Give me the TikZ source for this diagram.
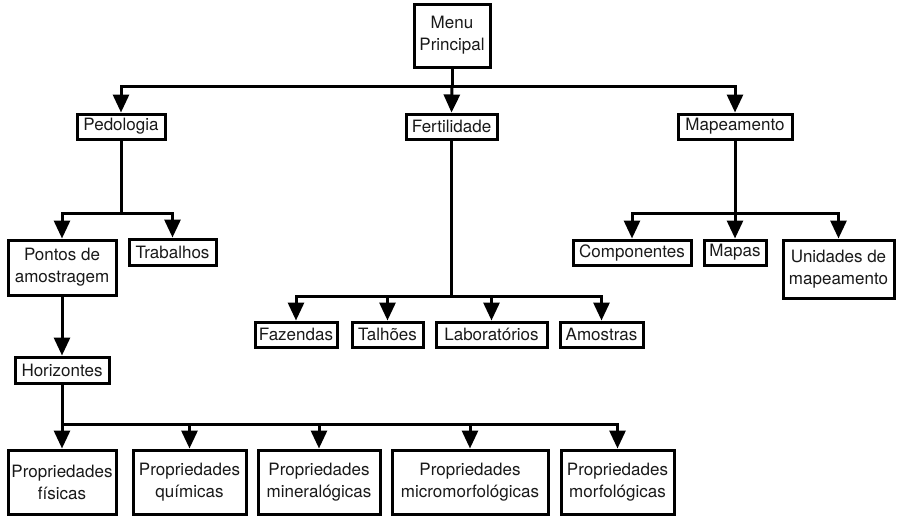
\documentclass[tikz,border=0pt]{standalone}
\usepackage{fontspec}
\setmainfont{TeX Gyre Heros}
\usetikzlibrary{arrows.meta}
\begin{document}
\begin{tikzpicture}[x=1pt,y=-1pt,
  bx/.style={draw=black, line width=3pt, inner sep=0pt, align=center,
    font=\fontsize{17}{22}\selectfont, text=black!90},
  ln/.style={draw=black, line width=3pt},
  arr/.style={ln, -{Triangle[length=18pt,width=16pt]}}]
\useasboundingbox (0,0) rectangle (897,515);
% nodes
\node[bx, minimum width=76pt, minimum height=63pt] (menu) at (452,35.5) {Menu\\Principal};
\node[bx, minimum width=88pt, minimum height=25pt] (ped) at (121,126.5) {Pedologia};
\node[bx, minimum width=91pt, minimum height=25pt] (fert) at (451.5,126.5) {Fertilidade};
\node[bx, minimum width=114pt, minimum height=25pt] (map) at (735,126.5) {Mapeamento};
\node[bx, minimum width=108pt, minimum height=55pt] (pontos) at (62,267.5) {Pontos de\\amostragem};
\node[bx, minimum width=87pt, minimum height=26pt] (trab) at (172.5,252) {Trabalhos};
\node[bx, minimum width=94pt, minimum height=26pt] (horiz) at (62,370) {Horizontes};
\node[bx, minimum width=108pt, minimum height=64pt] (fis) at (62,482) {Propriedades\\físicas};
\node[bx, minimum width=113pt, minimum height=64pt] (qui) at (189.5,482) {Propriedades\\químicas};
\node[bx, minimum width=122pt, minimum height=64pt] (min) at (319,482) {Propriedades\\mineralógicas};
\node[bx, minimum width=156pt, minimum height=64pt] (micro) at (470,482) {Propriedades\\micromorfológicas};
\node[bx, minimum width=113pt, minimum height=64pt] (morf) at (617.5,482) {Propriedades\\morfológicas};
\node[bx, minimum width=82pt, minimum height=25pt] (faz) at (296,334.5) {Fazendas};
\node[bx, minimum width=71pt, minimum height=25pt] (tal) at (387.5,334.5) {Talhões};
\node[bx, minimum width=111pt, minimum height=25pt] (lab) at (491.5,334.5) {Laboratórios};
\node[bx, minimum width=83pt, minimum height=25pt] (amo) at (601.5,334.5) {Amostras};
\node[bx, minimum width=118pt, minimum height=25pt] (comp) at (632,252.5) {Componentes};
\node[bx, minimum width=62pt, minimum height=25pt] (mapas) at (735,252.5) {Mapas};
\node[bx, minimum width=111pt, minimum height=58pt] (unid) at (838.5,269) {Unidades de\\mapeamento};
% junction points
\coordinate (j0) at (452,86);
\coordinate (j1) at (121,213);
\coordinate (j2) at (451.5,296);
\coordinate (j3) at (735,213);
\coordinate (j4) at (62,424);
% connectors
\draw[ln] (menu.south) -- (j0);
\draw[arr] (j0) -| (ped.north);
\draw[arr] (j0) -- (fert.north);
\draw[arr] (j0) -| (map.north);
\draw[ln] (ped.south) -- (j1);
\draw[arr] (j1) -| (pontos.north);
\draw[arr] (j1) -| (trab.north);
\draw[arr] (pontos.south) -- (horiz.north);
\draw[ln] (horiz.south) -- (j4);
\draw[arr] (j4) -- (fis.north);
\draw[arr] (j4) -| (qui.north);
\draw[arr] (j4) -| (min.north);
\draw[arr] (j4) -| (micro.north);
\draw[arr] (j4) -| (morf.north);
\draw[ln] (fert.south) -- (j2);
\draw[arr] (j2) -| (faz.north);
\draw[arr] (j2) -| (tal.north);
\draw[arr] (j2) -| (lab.north);
\draw[arr] (j2) -| (amo.north);
\draw[ln] (map.south) -- (j3);
\draw[arr] (j3) -| (comp.north);
\draw[arr] (j3) -- (mapas.north);
\draw[arr] (j3) -| (unid.north);
\end{tikzpicture}
\end{document}
